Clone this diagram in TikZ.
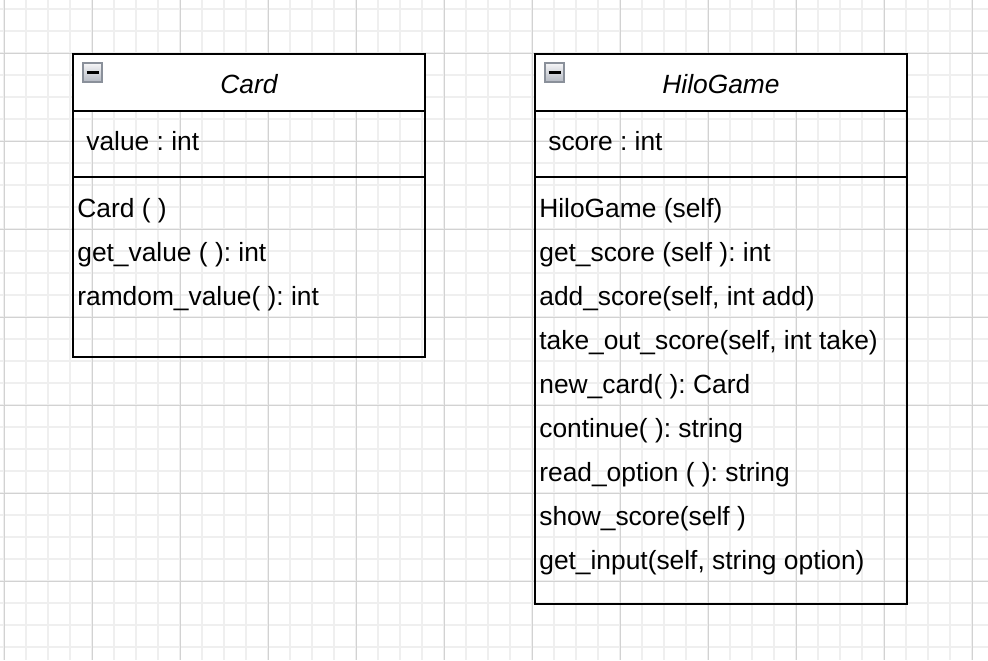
\documentclass[tikz,border=0pt]{standalone}
\usepackage{fontspec}
\setmainfont{Liberation Sans}
\usepackage{tikz}
\frenchspacing

\definecolor{gridminor}{HTML}{EFEFEF}
\definecolor{gridmajor}{HTML}{D2D2D2}
\definecolor{iconline}{HTML}{8A909A}
\definecolor{icontop}{HTML}{F6F6F8}
\definecolor{iconbottom}{HTML}{B4B9C2}

\tikzset{
	member/.style={anchor=base west, inner sep=0pt, font=\fontsize{15}{18}\selectfont},
	classname/.style={anchor=base, inner sep=0pt, font=\fontsize{15}{18}\selectfont\itshape},
	frame/.style={draw=black, line width=1.1pt},
	collapse/.style={draw=iconline, line width=0.6pt, top color=icontop, bottom color=iconbottom},
}

\begin{document}
\begin{tikzpicture}[x=0.02cm,y=-0.02cm]
						\useasboundingbox (0,0) rectangle (988,660);
						\fill[white] (0,0) rectangle (988,660);

						% grid
						\foreach \x in {4,26,...,988}
							\draw[gridminor, line width=0.8pt] (\x,0)--(\x,660);
						\foreach \y in {9,31,...,660}
							\draw[gridminor, line width=0.8pt] (0,\y)--(988,\y);
						\foreach \x in {4,92,...,988}
							\draw[gridmajor, line width=0.55pt] (\x,0)--(\x,660);
						\foreach \y in {53,141,...,660}
							\draw[gridmajor, line width=0.55pt] (0,\y)--(988,\y);

						% class Card
						\fill[white] (73,54) rectangle (425,111);
						\draw[frame] (73,54) rectangle (425,357);
						\draw[frame] (73,111)--(425,111);
						\draw[frame] (73,177)--(425,177);
						\draw[collapse] (83,63) rectangle (102,82);
						\draw[line width=1.3pt] (86.5,72.5)--(98.5,72.5);
						\node[classname] (card) at (249,93) {Card};
						\node[member] (card-value) at (86,150) {value : int};
						\foreach \m[count=\j from 0] in {Card ( ), get\_value ( ): int, ramdom\_value( ): int}
						{
							\def\y{217+44*\j}
							\node[member] (card-m\j) at (77,{\y}) {\m};
						}

						% class HiloGame
						\fill[white] (535,54) rectangle (907,111);
						\draw[frame] (535,54) rectangle (907,604);
						\draw[frame] (535,111)--(907,111);
						\draw[frame] (535,177)--(907,177);
						\draw[collapse] (545,63) rectangle (564,82);
						\draw[line width=1.3pt] (548.5,72.5)--(560.5,72.5);
						\node[classname] (hilo) at (721,93) {HiloGame};
						\node[member] (hilo-score) at (548,150) {score : int};
						\foreach \m[count=\j from 0] in {HiloGame (self), get\_score (self ): int, {add\_score(self, int add)}, {take\_out\_score(self, int take)}, new\_card( ): Card, continue( ): string, read\_option ( ): string, show\_score(self ), {get\_input(self, string option)}}
						{
							\def\y{217+44*\j}
							\node[member] (hilo-m\j) at (539,{\y}) {\m};
						}
\end{tikzpicture}
\end{document}
